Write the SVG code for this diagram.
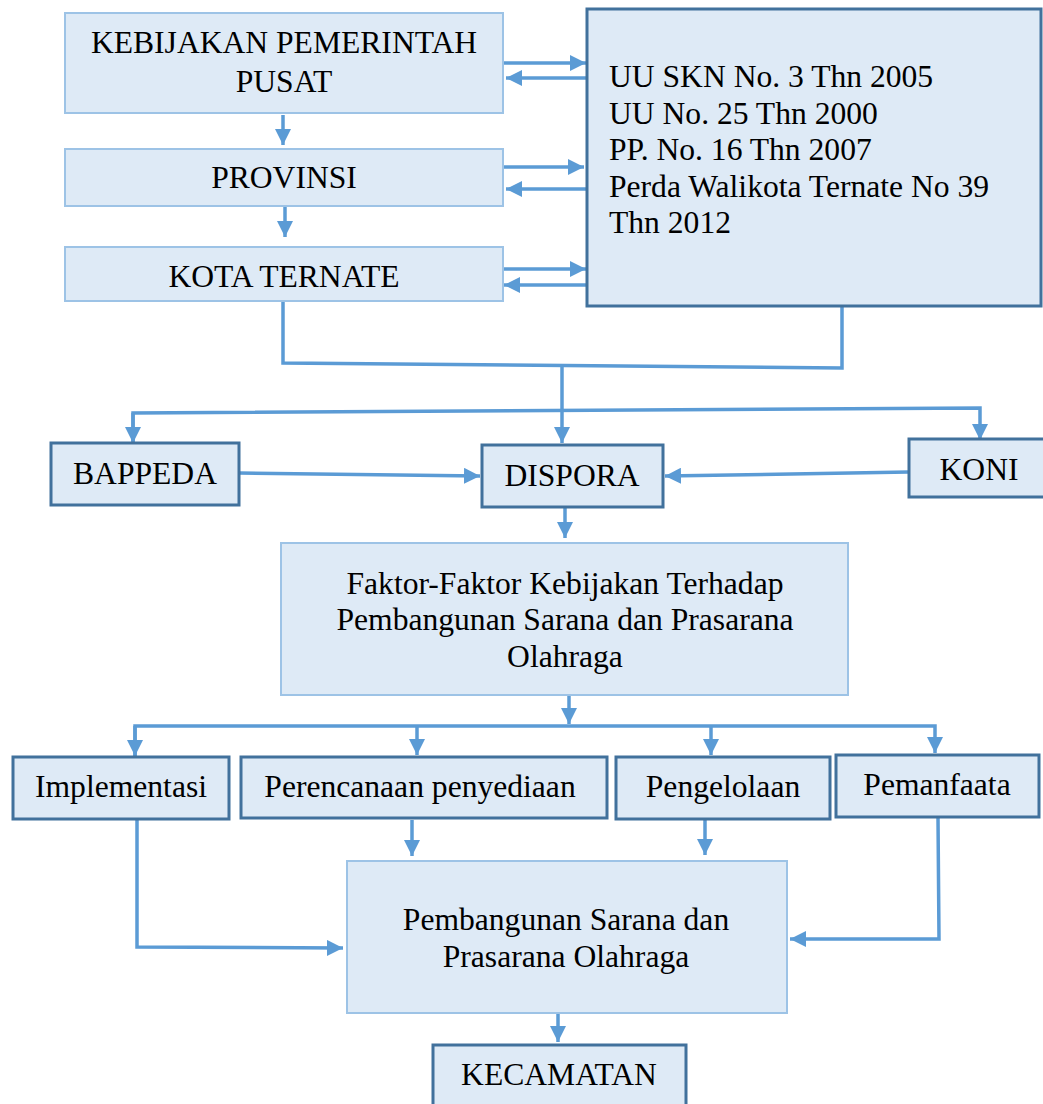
<svg xmlns="http://www.w3.org/2000/svg" width="1043" height="1104" viewBox="0 0 1043 1104">
<defs>
<style>
.lt{fill:#deeaf6;stroke:#9dc3e6;stroke-width:2}
.dk{fill:#deeaf6;stroke:#41719c;stroke-width:3}
text{font-family:"Liberation Serif","Times New Roman",serif;font-size:31.6px;fill:#000}
.c{text-anchor:middle}
.ln{fill:none;stroke:#5b9bd5;stroke-width:3.5}
</style>
<marker id="ah" markerUnits="userSpaceOnUse" markerWidth="16" markerHeight="16" refX="15" refY="7.5" orient="auto" viewBox="0 0 15 15">
<path d="M0,0 L15,7.5 L0,15 z" fill="#5b9bd5"/>
</marker>
</defs>
<rect width="1043" height="1104" fill="#fff"/>
<g id="connectors">
<line class="ln" x1="504" y1="63" x2="586" y2="63" marker-end="url(#ah)"/>
<line class="ln" x1="587" y1="78" x2="506" y2="78" marker-end="url(#ah)"/>
<line class="ln" x1="504" y1="167" x2="584" y2="167" marker-end="url(#ah)"/>
<line class="ln" x1="587" y1="189" x2="506" y2="189" marker-end="url(#ah)"/>
<line class="ln" x1="504" y1="269" x2="586" y2="269" marker-end="url(#ah)"/>
<line class="ln" x1="587" y1="285" x2="504" y2="285" marker-end="url(#ah)"/>
<line class="ln" x1="283" y1="115" x2="283" y2="145" marker-end="url(#ah)"/>
<line class="ln" x1="285" y1="207" x2="285" y2="237" marker-end="url(#ah)"/>
<polyline class="ln" points="283,302 283,363 842,368 842,306"/>
<line class="ln" x1="562" y1="366" x2="562" y2="443" marker-end="url(#ah)"/>
<polyline class="ln" points="133,443 133,413 980,408 980,440" marker-end="url(#ah)"/>
<path class="ln" d="M133,413 L133,443" marker-end="url(#ah)"/>
<line class="ln" x1="239" y1="473" x2="480" y2="476" marker-end="url(#ah)"/>
<line class="ln" x1="909" y1="472" x2="665" y2="476" marker-end="url(#ah)"/>
<line class="ln" x1="565" y1="508" x2="565" y2="538" marker-end="url(#ah)"/>
<line class="ln" x1="569" y1="696" x2="569" y2="724" marker-end="url(#ah)"/>
<polyline class="ln" points="135,756 135,726 935,726 935,753" marker-end="url(#ah)"/>
<path class="ln" d="M135,726 L135,756" marker-end="url(#ah)"/>
<line class="ln" x1="417" y1="726" x2="417" y2="755" marker-end="url(#ah)"/>
<line class="ln" x1="711" y1="726" x2="711" y2="755" marker-end="url(#ah)"/>
<line class="ln" x1="412" y1="820" x2="412" y2="856" marker-end="url(#ah)"/>
<line class="ln" x1="705" y1="820" x2="705" y2="855" marker-end="url(#ah)"/>
<polyline class="ln" points="137,820 137,947 343,948" marker-end="url(#ah)"/>
<polyline class="ln" points="938,818 939,939 790,939" marker-end="url(#ah)"/>
<line class="ln" x1="558" y1="1014" x2="558" y2="1042" marker-end="url(#ah)"/>
</g>
<g id="n-kebijakan"><rect class="lt" x="65" y="13" width="438" height="100"/><text class="c" x="284" y="53">KEBIJAKAN PEMERINTAH</text><text class="c" x="284" y="92">PUSAT</text></g>
<g id="n-provinsi"><rect class="lt" x="65" y="149" width="438" height="57"/><text class="c" x="284" y="188">PROVINSI</text></g>
<g id="n-kota"><rect class="lt" x="65" y="247" width="438" height="54"/><text class="c" x="284" y="287">KOTA TERNATE</text></g>
<g id="n-uu"><rect class="dk" x="587" y="9" width="454" height="297"/>
<text x="609" y="87">UU SKN No. 3 Thn 2005</text>
<text x="609" y="124">UU No. 25 Thn 2000</text>
<text x="609" y="160">PP. No. 16 Thn 2007</text>
<text x="609" y="197">Perda Walikota Ternate No 39</text>
<text x="609" y="233">Thn 2012</text></g>
<g id="n-bappeda"><rect class="dk" x="51" y="443" width="188" height="62"/><text class="c" x="145" y="484">BAPPEDA</text></g>
<g id="n-dispora"><rect class="dk" x="482" y="445" width="181" height="62"/><text class="c" x="572" y="486">DISPORA</text></g>
<g id="n-koni"><rect class="dk" x="909" y="439" width="136" height="58"/><text class="c" x="979" y="480">KONI</text></g>
<g id="n-faktor"><rect class="lt" x="281" y="543" width="567" height="152"/>
<text class="c" x="565" y="594">Faktor-Faktor Kebijakan Terhadap</text>
<text class="c" x="565" y="630">Pembangunan Sarana dan Prasarana</text>
<text class="c" x="565" y="667">Olahraga</text></g>
<g id="n-implementasi"><rect class="dk" x="13" y="757" width="216" height="62"/><text class="c" x="121" y="797">Implementasi</text></g>
<g id="n-perencanaan"><rect class="dk" x="241" y="757" width="366" height="61"/><text class="c" x="420" y="797">Perencanaan penyediaan</text></g>
<g id="n-pengelolaan"><rect class="dk" x="616" y="757" width="214" height="62"/><text class="c" x="723" y="797">Pengelolaan</text></g>
<g id="n-pemanfaata"><rect class="dk" x="836" y="755" width="203" height="62"/><text class="c" x="937" y="795">Pemanfaata</text></g>
<g id="n-pembangunan"><rect class="lt" x="347" y="861" width="440" height="152"/>
<text class="c" x="566" y="930">Pembangunan Sarana dan</text>
<text class="c" x="566" y="967">Prasarana Olahraga</text></g>
<g id="n-kecamatan"><rect class="dk" x="433" y="1045" width="253" height="70"/><text class="c" x="559" y="1085">KECAMATAN</text></g>
</svg>
